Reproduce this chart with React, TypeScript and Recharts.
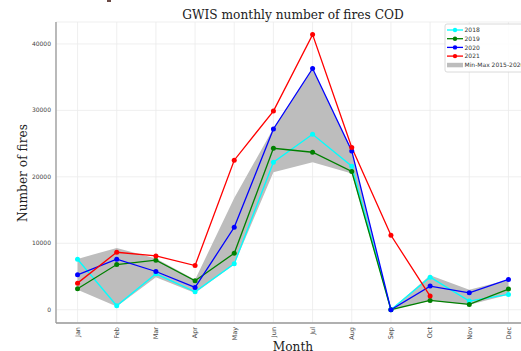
import React from "react";
import { ComposedChart, Line, Area, XAxis, YAxis, CartesianGrid } from "recharts";

const months = ["Jan", "Feb", "Mar", "Apr", "May", "Jun", "Jul", "Aug", "Sep", "Oct", "Nov", "Dec"];

const fires2018 = [7600, 600, 5400, 2700, 6900, 22200, 26400, 21600, 0, 4900, 1300, 2300];
const fires2019 = [3150, 6800, 7450, 4350, 8500, 24300, 23700, 20800, 0, 1400, 800, 3100];
const fires2020 = [5250, 7600, 5750, 3350, 12400, 27200, 36300, 23900, 0, 3550, 2550, 4550];
const fires2021 = [4000, 8650, 8100, 6650, 22500, 29900, 41400, 24400, 11200, 2050, null, null];

// min / max 2015-2020
const bandMin = [3000, 500, 4900, 2500, 6800, 20700, 22200, 20500, 0, 1350, 750, 2250];
const bandMax = [7650, 9300, 7700, 4500, 16800, 27300, 36300, 23900, 0, 5200, 3000, 4500];

const yTicks = [0, 10000, 20000, 30000, 40000];

const series = [
  { key: "y2018", name: "2018", color: "#00ffff", values: fires2018 },
  { key: "y2019", name: "2019", color: "#008000", values: fires2019 },
  { key: "y2020", name: "2020", color: "#0000ff", values: fires2020 },
  { key: "y2021", name: "2021", color: "#ff0000", values: fires2021 },
];

const data = months.map((m, i) => {
  const row: Record<string, any> = { idx: i, month: m, band: [bandMin[i], bandMax[i]] };
  series.forEach((s) => (row[s.key] = s.values[i]));
  return row;
});

const TICK_FONT = "DejaVu Sans, sans-serif";
const LABEL_FONT = "DejaVu Serif, serif";
const LABEL_SIZE = 12.2;

function MonthTick({ x, y, payload }: any) {
  return (
    <text
      transform={`translate(${x},${y}) rotate(-90)`}
      textAnchor="end"
      dy="0.35em"
      fontSize={6.5}
      fill="#444"
      fontFamily={TICK_FONT}
    >
      {months[payload.value]}
    </text>
  );
}

function CountTick({ x, y, payload }: any) {
  return (
    <text x={x} y={y} textAnchor="end" dy="0.35em" fontSize={6} fill="#444" fontFamily={TICK_FONT}>
      {payload.value}
    </text>
  );
}

function LegendBox() {
  const rowH = 8.7;
  return (
    <g transform="translate(445,24)">
      <rect x={0} y={0} width={100} height={48} rx={2} fill="#fff" fillOpacity={0.85} stroke="#d0d0d0" strokeWidth={0.8} />
      {series.map((s, i) => {
        const cy = 6 + i * rowH;
        return (
          <g key={s.key}>
            <line x1={2} x2={18} y1={cy} y2={cy} stroke={s.color} strokeWidth={1.3} />
            <circle cx={10} cy={cy} r={2.2} fill={s.color} />
            <text x={19.5} y={cy} dy="0.35em" fontSize={6} fill="#333" fontFamily={TICK_FONT}>
              {s.name}
            </text>
          </g>
        );
      })}
      <rect x={2} y={6 + 4 * rowH - 2} width={16} height={4.5} fill="#bdbdbd" />
      <text x={19.5} y={6 + 4 * rowH} dy="0.35em" fontSize={6} fill="#333" fontFamily={TICK_FONT}>
        Min-Max 2015-2020
      </text>
    </g>
  );
}

export default function App() {
  return (
    <div
      style={{
        position: "absolute",
        left: 0,
        top: 0,
        width: 521,
        height: 351,
        overflow: "hidden",
        background: "#fff",
      }}
    >
      <div style={{ position: "absolute", left: 107, top: 0, width: 4, height: 2, background: "#6b4a45" }} />
      <ComposedChart width={531} height={370} data={data} margin={{ top: 22, right: 1, bottom: 0, left: 0 }}>
        <CartesianGrid stroke="#ebebeb" strokeWidth={0.8} />
        <XAxis
          dataKey="idx"
          type="number"
          domain={[-0.55, 11.55]}
          ticks={months.map((_, i) => i)}
          interval={0}
          height={47}
          tickLine={false}
          tickSize={0}
          tickMargin={4}
          tick={<MonthTick />}
          axisLine={{ stroke: "#999", strokeWidth: 1.3 }}
        />
        <XAxis
          xAxisId="top"
          orientation="top"
          dataKey="idx"
          type="number"
          domain={[-0.55, 11.55]}
          height={0}
          tick={false}
          tickLine={false}
          axisLine={{ stroke: "#999", strokeWidth: 1.3 }}
        />
        <YAxis
          type="number"
          domain={[-2000, 43300]}
          ticks={yTicks}
          width={56}
          tickLine={false}
          tickSize={0}
          tickMargin={5}
          tick={<CountTick />}
          axisLine={{ stroke: "#999", strokeWidth: 1.3 }}
        />
        <Area
          type="linear"
          dataKey="band"
          name="Min-Max 2015-2020"
          fill="#bdbdbd"
          fillOpacity={1}
          stroke="none"
          isAnimationActive={false}
          activeDot={false}
        />
        {series.map((s) => (
          <Line
            key={s.key}
            type="linear"
            dataKey={s.key}
            name={s.name}
            stroke={s.color}
            strokeWidth={1.3}
            dot={{ r: 2.5, fill: s.color, stroke: s.color, strokeWidth: 0 }}
            activeDot={false}
            isAnimationActive={false}
          />
        ))}
        <text x={293} y={18.5} textAnchor="middle" fontSize={LABEL_SIZE} fill="#222" fontFamily={LABEL_FONT}>
          GWIS monthly number of fires COD
        </text>
        <text
          transform="translate(26.5,173) rotate(-90)"
          textAnchor="middle"
          fontSize={LABEL_SIZE}
          fill="#222"
          fontFamily={LABEL_FONT}
        >
          Number of fires
        </text>
        <text x={293} y={350.5} textAnchor="middle" fontSize={LABEL_SIZE} fill="#222" fontFamily={LABEL_FONT}>
          Month
        </text>
        <LegendBox />
      </ComposedChart>
    </div>
  );
}
